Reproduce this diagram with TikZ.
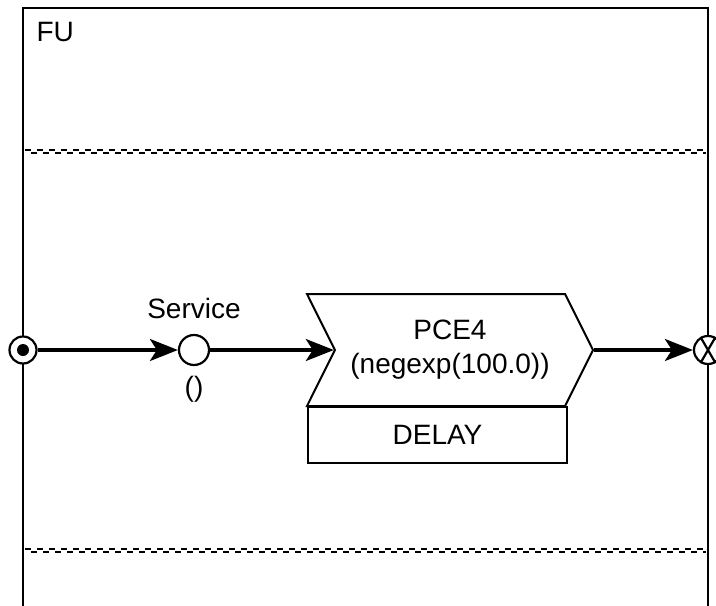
\documentclass[tikz,border=0pt]{standalone}
\usepackage{fontspec}
\setmainfont{Liberation Sans}
\usetikzlibrary{arrows.meta,positioning,shapes.symbols}
\tikzstyle{place}=[draw,circle,line width=2.2pt,minimum size=30pt,inner sep=0pt]
\tikzstyle{flow}=[line width=3.2pt,-{Stealth[length=28pt,width=22pt,inset=7pt]}]
\tikzstyle{lane}=[line width=2.6pt,dash pattern=on 6pt off 6pt]

\begin{document}
\begin{tikzpicture}[x=1pt,y=-1pt,font=\fontsize{28}{34}\selectfont]
\useasboundingbox (0,0) rectangle (716,606);
% frame
\draw[line width=2.2pt] (23,606) -- (23,8) -- (708,8) -- (708,606);
\node[anchor=west] (fu) at (33,32) {FU};
% lane separators
\draw[lane] (25,150) -- (706,150);
\draw[lane,dash phase=6pt] (25,153) -- (706,153);
\draw[lane] (25,549) -- (706,549);
\draw[lane,dash phase=6pt] (25,552) -- (706,552);
% start and end
\node[place,minimum size=27pt,fill=white] (start) at (23,350) {};
\fill (start) circle (6pt);
\node[place,minimum size=28pt,fill=white] (stop) at (708,350) {};
\draw[line width=2.2pt] (stop.120) -- (stop.-60) (stop.60) -- (stop.240);
% service
\node[place] (service) at (194,350) {};
\node[above=12pt of service] (svclabel) {Service};
\node[below=7pt of service] (svcargs) {()};
% process
\node[draw,line width=2pt,signal,signal from=west,signal to=east,
  signal pointer angle=127,minimum width=286pt,minimum height=112pt,
  align=center,inner sep=0pt] (pce) at (450,350) {PCE4\\(negexp(100.0))};
\node[draw,line width=2pt,minimum width=259pt,minimum height=56pt,
  inner sep=0pt,anchor=north west] (delay) at (307,406) {DELAY};
% connectors
\draw[flow] (start) -- (service);
\draw[flow] (service) -- (pce.west);
\draw[flow] (pce.east) -- (stop);
\end{tikzpicture}
\end{document}
